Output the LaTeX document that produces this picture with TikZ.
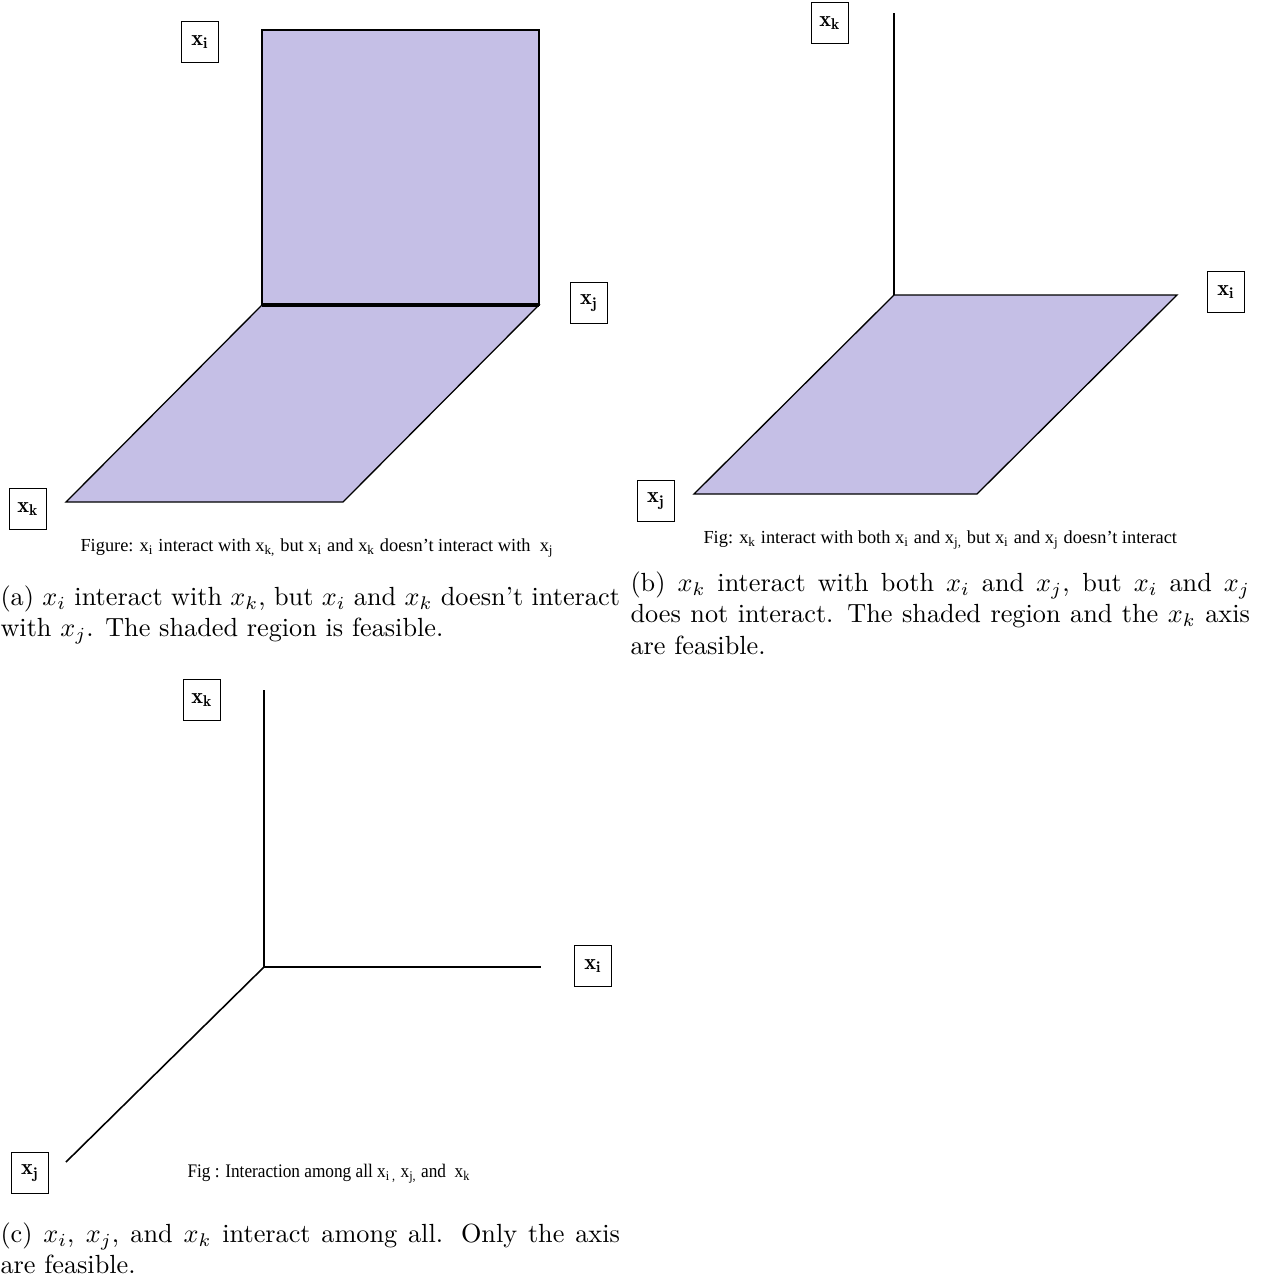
\documentclass[tikz,border=0pt]{standalone}
\usepackage{fontspec}
\usepackage{graphicx}
\newfontfamily\insetfont{Liberation Serif}
\definecolor{feasible}{RGB}{197,191,230}
\tikzset{
  axislabel/.style={draw, line width=0.6pt, minimum width=14pt, minimum height=15.5pt,
    inner sep=0pt, font=\fontsize{8.5}{10}\selectfont},
  region/.style={fill=feasible, draw=black, line width=0.5pt},
  axisline/.style={line width=0.6pt},
  insetcap/.style={anchor=west, inner sep=0pt, font=\insetfont\fontsize{7}{8}\selectfont},
  subcap/.style={anchor=north west, inner sep=0pt, text width=236pt, align=justify}
}
\begin{document}
\begin{tikzpicture}[x=0.381pt, y=-0.381pt]
  \useasboundingbox (0,0) rectangle (1268,1277);

  % (a) x_i with x_k
  \coordinate (a-o) at (262,305);
  \coordinate (a-j) at (539,305);
  \coordinate (a-i) at (262,30);
  \filldraw[region] (a-i) rectangle (a-j);
  \filldraw[region] (a-o) -- (a-j) -- (343,502) -- (66,502) -- cycle;
  \draw[line width=1.2pt] (a-o) -- (a-j);
  \node[axislabel] (a-xi) at (200,42) {$\mathbf{x_i}$};
  \node[axislabel] (a-xj) at (589,303) {$\mathbf{x_j}$};
  \node[axislabel] (a-xk) at (28,509) {$\mathbf{x_k}$};
  \node[insetcap] (a-fig) at (80,548) {Figure: x\textsubscript{i} interact with x\textsubscript{k,} but x\textsubscript{i} and x\textsubscript{k} doesn’t interact with ~x\textsubscript{j}};
  \node[subcap] (a-cap) at (0,585) {(a) $x_i$ interact with $x_k$, but $x_i$ and $x_k$ doesn't interact with $x_j$. The shaded region is feasible.};

  % (b) x_k with both
  \coordinate (b-o) at (894,295);
  \coordinate (b-k) at (894,13);
  \filldraw[region] (b-o) -- (1177,295) -- (977,494) -- (694,494) -- cycle;
  \draw[axisline] (b-k) -- (b-o);
  \node[axislabel] (b-xk) at (830,23) {$\mathbf{x_k}$};
  \node[axislabel] (b-xi) at (1226,292) {$\mathbf{x_i}$};
  \node[axislabel] (b-xj) at (656,501) {$\mathbf{x_j}$};
  \node[insetcap] (b-fig) at (703,540) {Fig: x\textsubscript{k} interact with both x\textsubscript{i} and x\textsubscript{j,} but x\textsubscript{i} and x\textsubscript{j} doesn’t interact};
  \node[subcap] (b-cap) at (630,571) {(b) $x_k$ interact with both $x_i$ and $x_j$, but $x_i$ and $x_j$\linebreak does not interact. The shaded region and the $x_k$ axis\linebreak are feasible.};

  % (c) all interact
  \coordinate (c-o) at (264,967);
  \draw[axisline] (264,690) -- (c-o) -- (541,967);
  \draw[axisline] (c-o) -- (66,1162);
  \node[axislabel] (c-xk) at (202,700) {$\mathbf{x_k}$};
  \node[axislabel] (c-xi) at (593,966) {$\mathbf{x_i}$};
  \node[axislabel] (c-xj) at (30,1173) {$\mathbf{x_j}$};
  \node[insetcap] (c-fig) at (187,1174) {\fontsize{7.3}{8}\selectfont\scalebox{0.9}[1]{Fig : Interaction among all x\textsubscript{i ,} x\textsubscript{j,} and ~x\textsubscript{k}}};
  \node[subcap] (c-cap) at (0,1222) {(c) $x_i$, $x_j$, and $x_k$ interact among all. Only the axis are feasible.};
\end{tikzpicture}
\end{document}
